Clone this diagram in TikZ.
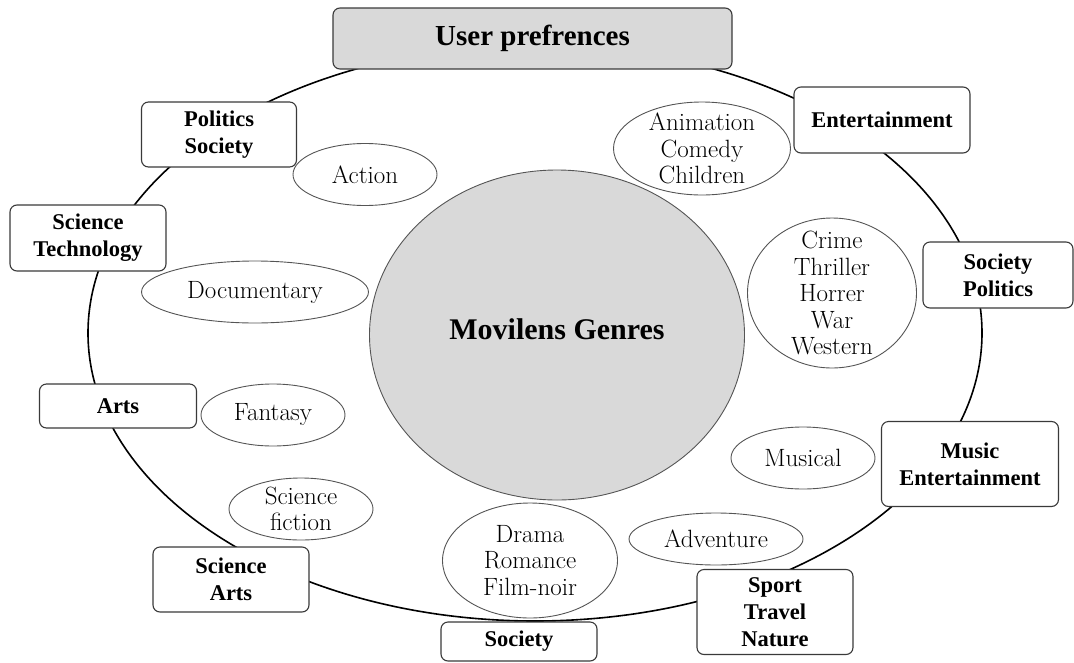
\documentclass[tikz,border=0pt]{standalone}
\usepackage{fontspec}
\newfontfamily\boxfam{Liberation Serif}
\usetikzlibrary{shapes.geometric}
\definecolor{boxline}{HTML}{3A3A3A}
\definecolor{ellline}{HTML}{555555}
\definecolor{grayfill}{HTML}{D9D9D9}
\tikzset{
  ringline/.style={ellipse, draw=black, line width=1.6pt, inner sep=0pt},
  catbox/.style={draw=boxline, line width=1.1pt, rounded corners=7pt, fill=white,
    align=center, inner sep=0pt, font=\boxfam\bfseries\fontsize{22.5}{27}\selectfont},
  genre/.style={ellipse, draw=ellline, line width=0.9pt, fill=white, inner sep=0pt},
  gtext/.style={align=center, inner sep=0pt, font=\fontsize{25}{26.5}\selectfont, text=black},
}
\begin{document}
\begin{tikzpicture}[x=1pt,y=-1pt]
\useasboundingbox (0,0) rectangle (1074,662);
% outer ring
\node[ringline, minimum width=894pt, minimum height=576pt] (ring) at (535,333) {};
% central genre ellipse
\node[ellipse, draw=ellline, line width=0.9pt, fill=grayfill, inner sep=0pt,
      minimum width=375pt, minimum height=330pt,
      label={[font=\boxfam\bfseries\fontsize{30}{34}\selectfont, inner sep=0pt, yshift=6pt]center:Movilens Genres}] (main) at (557,335) {};
% title
\node[catbox, fill=grayfill, minimum width=399pt, minimum height=61pt,
      font=\boxfam\bfseries\fontsize{29}{34}\selectfont] (user) at (532.5,38.5) {User prefrences};
% category boxes on the ring
\node[catbox, minimum width=155pt, minimum height=65pt] (polsoc) at (219,134.5) {Politics\\Society};
\node[catbox, minimum width=156pt, minimum height=66pt] (scitech) at (88,238) {Science\\Technology};
\node[catbox, minimum width=157pt, minimum height=44pt] (arts) at (118,406) {Arts};
\node[catbox, minimum width=156pt, minimum height=65pt] (sciarts) at (231,579.5) {Science\\Arts};
\node[catbox, minimum width=156pt, minimum height=39pt] (society) at (519,641.5) {Society};
\node[catbox, minimum width=156pt, minimum height=85pt] (sport) at (775,612) {Sport\\Travel\\Nature};
\node[catbox, minimum width=177pt, minimum height=85pt] (musicent) at (970,464) {Music\\Entertainment};
\node[catbox, minimum width=150pt, minimum height=66pt] (socpol) at (998,275) {Society\\Politics};
\node[catbox, minimum width=176pt, minimum height=66pt] (entertain) at (882,120) {Entertainment};
% genre ellipses
\node[genre, minimum width=144pt, minimum height=62pt, label={[gtext]center:Action}] (action) at (365,174.5) {};
\node[genre, minimum width=227pt, minimum height=62pt, label={[gtext]center:Documentary}] (documentary) at (255,292) {};
\node[genre, minimum width=144pt, minimum height=62pt, label={[gtext]center:Fantasy}] (fantasy) at (273,415) {};
\node[genre, minimum width=144pt, minimum height=62pt, label={[gtext]center:Science\\fiction}] (scifi) at (301,509) {};
\node[genre, minimum width=175pt, minimum height=115pt, label={[gtext]center:Drama\\Romance\\Film-noir}] (drama) at (530,560.5) {};
\node[genre, minimum width=174pt, minimum height=52pt, label={[gtext]center:Adventure}] (adventure) at (716,539) {};
\node[genre, minimum width=144pt, minimum height=62pt, label={[gtext]center:Musical}] (musical) at (803,458) {};
\node[genre, minimum width=169pt, minimum height=150pt, label={[gtext]center:Crime\\Thriller\\Horrer\\War\\Western}] (crime) at (832,293) {};
\node[genre, minimum width=177pt, minimum height=93pt, label={[gtext]center:Animation\\Comedy\\Children}] (animation) at (702,148.5) {};
\end{tikzpicture}
\end{document}
